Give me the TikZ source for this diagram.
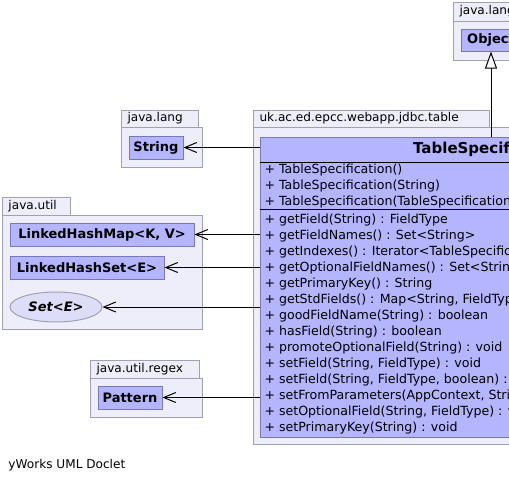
\documentclass[tikz,border=0pt]{standalone}
\usepackage{fontspec}
\setmainfont{DejaVu Sans}
\usetikzlibrary{arrows.meta, shapes.geometric}
\definecolor{pkgfill}{RGB}{238,238,250}
\definecolor{pkgline}{RGB}{160,160,180}
\definecolor{clsfill}{RGB}{180,180,255}
\definecolor{clsline}{RGB}{120,120,180}
\definecolor{ifcfill}{RGB}{221,221,248}

\begin{document}
\begin{tikzpicture}[x=1pt, y=-1pt, line width=1pt,
pkg/.style={draw=pkgline, fill=pkgfill},
pkglbl/.style={anchor=west, inner sep=0, font=\fontsize{12.1}{14}\selectfont},
cls/.style={draw=clsline, fill=clsfill, minimum height=23, inner sep=0, font=\fontsize{13}{15}\selectfont\bfseries},
ifc/.style={ellipse, draw=pkgline, fill=ifcfill, inner sep=0, font=\fontsize{13}{15}\selectfont\bfseries\itshape},
member/.style={anchor=west, inner sep=0, font=\fontsize{12.6}{15}\selectfont},
dep/.style={-{Straight Barb[length=12pt, width=10pt]}},
inh/.style={-{Triangle[length=17pt, width=12pt, fill=white]}}]
\fill[white, use as bounding box] (0,0) rectangle (509,482);
\clip (0,0) rectangle (509,482);

% packages
\draw[pkg] (453,2) rectangle (531,21);
\draw[pkg] (453,21) rectangle (531,60);
\node[pkglbl] at (459,11.5) {java.lang};
\draw[pkg] (121,110) rectangle (198,127);
\draw[pkg] (121,127) rectangle (202,167);
\node[pkglbl] at (127,118.5) {java.lang};
\draw[pkg] (2,197) rectangle (70,215);
\draw[pkg] (2,215) rectangle (202,329);
\node[pkglbl] at (8,206) {java.util};
\draw[pkg] (90,360) rectangle (199,378);
\draw[pkg] (90,378) rectangle (202,417);
\node[pkglbl] at (96,369) {java.util.regex};
\draw[pkg] (253,110) rectangle (489,127);
\draw[pkg] (253,127) rectangle (735,444);
\node[pkglbl] at (259,118.5) {uk.ac.ed.epcc.webapp.jdbc.table};

% classes
\node[cls, minimum width=60, minimum height=22] (obj) at (491,40) {Object};
\node[cls, minimum width=54] (str) at (156,147.5) {String};
\node[cls, minimum width=184] (lhmap) at (102,234.5) {LinkedHashMap<K, V>};
\node[cls, minimum width=154] (lhset) at (87,267.5) {LinkedHashSet<E>};
\node[ifc, minimum width=92, minimum height=30] (setifc) at (56,307) {Set<E>};
\node[cls, minimum width=64] (pat) at (130,397.5) {Pattern};

\node[draw=clsline, fill=clsfill, minimum width=460, minimum height=300, anchor=north west] (tspec) at (260,137) {};
\node[font=\fontsize{15}{18}\selectfont\bfseries] (tsname) at (490,149.5) {TableSpecification};
\draw (tspec.west |- 0,162) -- (tspec.east |- 0,162);
\draw (tspec.west |- 0,209) -- (tspec.east |- 0,209);
\foreach \txt [count=\i from 0] in {TableSpecification(), TableSpecification(String), TableSpecification(TableSpecification)}
  \node[member] at (264,{170.5+16*\i}) {+ \txt};
\foreach \txt [count=\i from 0] in {{getField(String) : FieldType}, {getFieldNames() : Set<String>},
  {getIndexes() : Iterator<TableSpecification.Index>}, {getOptionalFieldNames() : Set<String>},
  {getPrimaryKey() : String}, {getStdFields() : Map<String, FieldType>},
  {goodFieldName(String) : boolean}, {hasField(String) : boolean},
  {promoteOptionalField(String) : void}, {setField(String, FieldType) : void},
  {setField(String, FieldType, boolean) : void}, {setFromParameters(AppContext, String, Map) : void},
  {setOptionalField(String, FieldType) : void}, {setPrimaryKey(String) : void}}
  \node[member] at (264,{220.5+16*\i}) {+ \txt};

% connectors
\draw[inh] (obj |- tspec.north) -- (obj.south);
\draw[dep] (str -| tspec.west) -- (str.east);
\draw[dep] (lhmap -| tspec.west) -- (lhmap.east);
\draw[dep] (lhset -| tspec.west) -- (lhset.east);
\draw[dep] (setifc -| tspec.west) -- (setifc.east);
\draw[dep] (pat -| tspec.west) -- (pat.east);

\node[pkglbl] (doclet) at (8,465) {yWorks UML Doclet};
\end{tikzpicture}
\end{document}
